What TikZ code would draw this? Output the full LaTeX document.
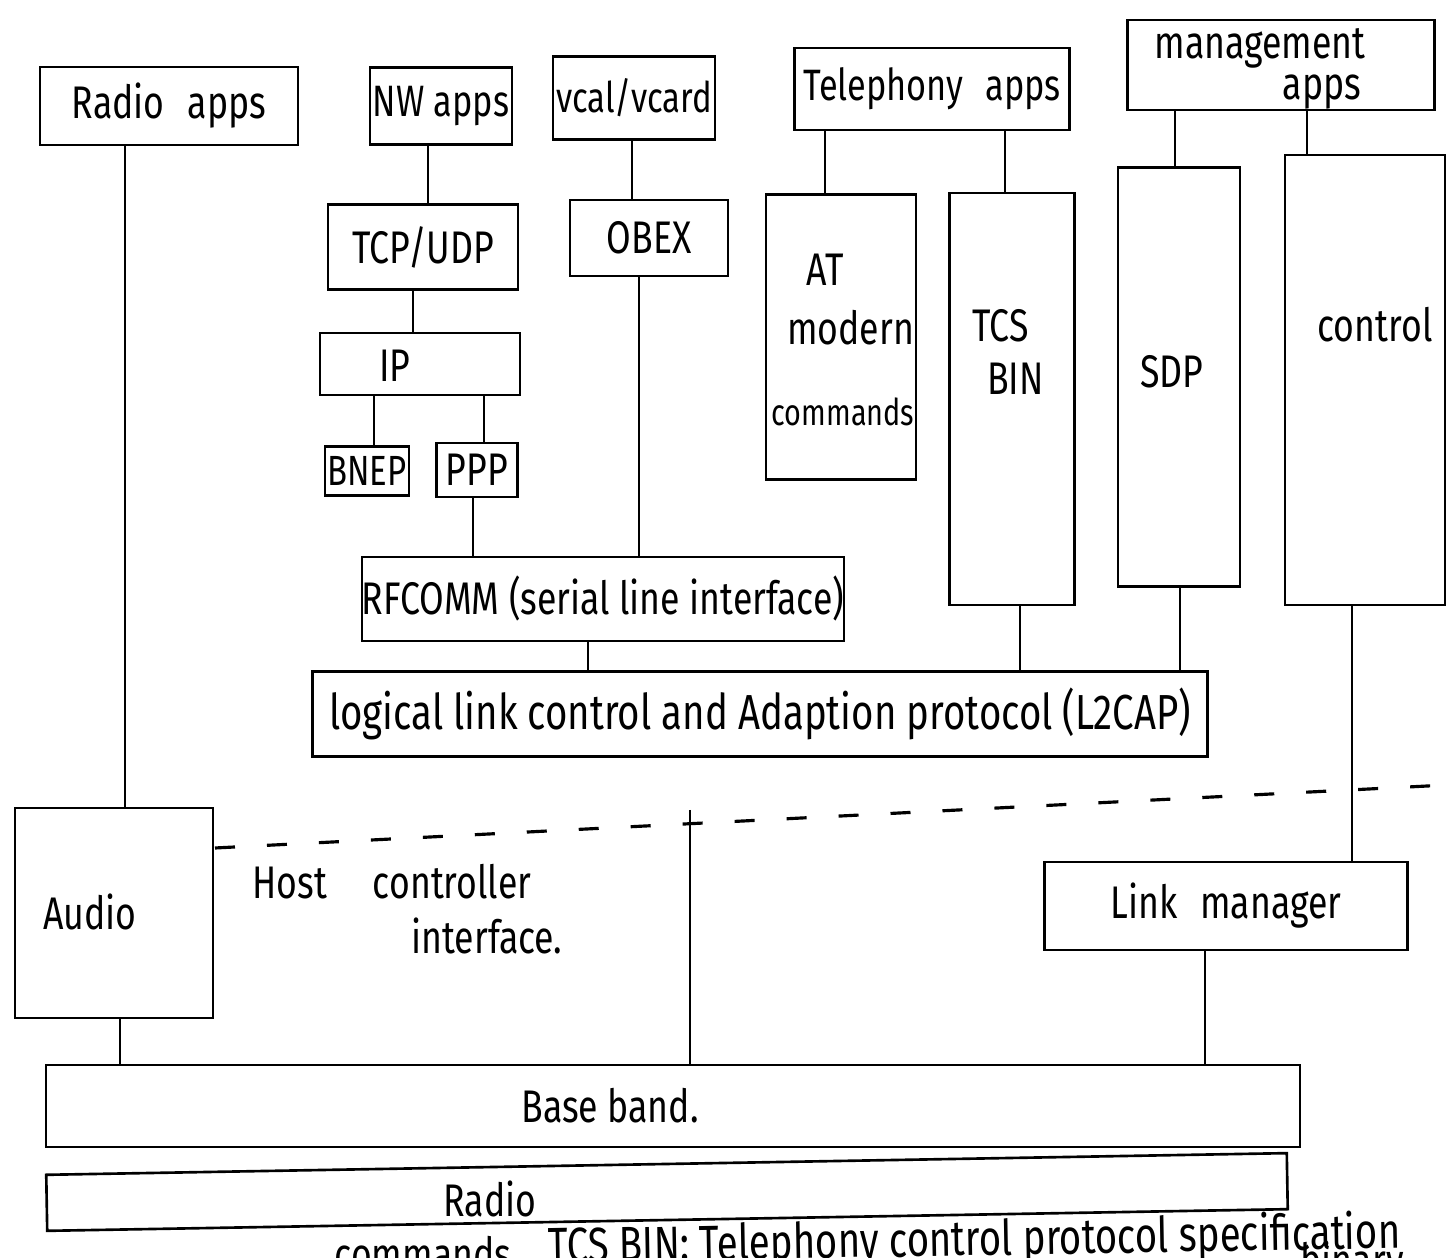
\documentclass[tikz,border=0pt]{standalone}
\usepackage{fontspec}
\setmainfont{Fira Sans}[FakeStretch=0.78]
\begin{document}
\begin{tikzpicture}[x=0.01cm,y=-0.01cm,
  box/.style={draw, line width=0.75pt, inner sep=0pt, font=\fontsize{13}{15}\selectfont},
  lbl/.style={inner sep=0pt, font=\fontsize{13}{15}\selectfont},
  conn/.style={line width=0.75pt},
  dashline/.style={line width=0.9pt, dash pattern=on 0.2cm off 0.32cm}]
\useasboundingbox (0,0) rectangle (1447,1258);
\clip (0,0) rectangle (1447,1258);
\fill[white] (0,0) rectangle (1447,1258);

% top application boxes
\node[box, minimum width=2.58cm, minimum height=0.78cm] (ra) at (169,106) {Radio\enspace apps};
\node[box, minimum width=1.42cm, minimum height=0.77cm, font=\fontsize{12.5}{15}\selectfont] (nw) at (441,106) {NW apps};
\node[box, minimum width=1.62cm, minimum height=0.83cm, font=\fontsize{12}{15}\selectfont] (vc) at (634,98) {vcal/vcard};
\node[box, minimum width=2.75cm, minimum height=0.82cm, font=\fontsize{12.5}{15}\selectfont] (tel) at (932,89) {Telephony\enspace apps};
\node[box, minimum width=3.07cm, minimum height=0.90cm] (mg) at (1281,65) {};
\node[lbl] (mgt1) at (1260,48) {management};
\node[lbl] (mgt2) at (1322,92) {apps};

% network stack
\node[box, minimum width=1.90cm, minimum height=0.85cm] (tcp) at (423,247) {TCP/UDP};
\node[box, minimum width=2.00cm, minimum height=0.62cm] (ip) at (420,364) {};
\node[lbl] (iptx) at (395,366) {IP};
\node[box, minimum width=0.84cm, minimum height=0.49cm, font=\fontsize{12}{14}\selectfont] (bnep) at (367,471) {BNEP};
\node[box, minimum width=0.81cm, minimum height=0.54cm] (ppp) at (477,470) {PPP};
\node[box, minimum width=1.58cm, minimum height=0.76cm] (obex) at (649,238) {OBEX};
\node[box, minimum width=4.74cm, minimum height=0.84cm] (rf) at (603,599) {RFCOMM (serial line interface)};
\node[box, minimum width=8.94cm, minimum height=0.85cm, font=\fontsize{14}{16}\selectfont] (l2) at (760,714) {logical link control and Adaption protocol (L2CAP)};

% tall boxes
\node[box, minimum width=1.50cm, minimum height=2.85cm] (at) at (841,337) {};
\node[lbl, align=center] (attx) at (843,340) {\hspace*{-0.35cm}AT\\[2pt]\hspace*{0.15cm}modern\\[8pt]{\fontsize{10.5}{13}\selectfont commands}};
\node[box, minimum width=1.25cm, minimum height=4.12cm] (tcs) at (1012,399) {};
\node[lbl, align=left] (tcstx) at (1008,352) {TCS\\\hspace*{0.15cm}BIN};
\node[box, minimum width=1.22cm, minimum height=4.19cm] (sdp) at (1179,377) {};
\node[lbl] (sdptx) at (1172,372) {SDP};
\node[box, minimum width=1.60cm, minimum height=4.50cm] (ctl) at (1365,380) {};
\node[lbl] (ctltx) at (1375,325) {control};

% lower part
\node[box, minimum width=1.98cm, minimum height=2.10cm] (audio) at (114,913) {};
\node[lbl] (audiotx) at (90,912) {Audio};
\node[lbl] (hc1) at (392,882) {Host\quad controller};
\node[lbl] (hc2) at (487,936) {interface.};
\node[box, minimum width=3.63cm, minimum height=0.88cm] (lm) at (1226,906) {Link\enspace manager};
\node[box, minimum width=12.53cm, minimum height=0.82cm] (bb) at (673,1106) {};
\node[lbl] (bbtx) at (610,1106) {Base band.};
\node[box, minimum width=12.40cm, minimum height=0.56cm, rotate=1] (rd) at (667,1192) {};
\node[lbl] (rdtx) at (490,1199) {Radio};
\node[lbl, anchor=base west, rotate=1, font=\fontsize{14}{16}\selectfont] (leg) at (548,1263) {TCS BIN: Telephony control protocol specification};
\node[lbl, anchor=base east] (legc) at (512,1271) {commands};
\node[lbl, anchor=base west] (legb) at (1300,1277) {binary};

% dashed boundary
\coordinate (dl) at (215,848);
\coordinate (dr) at (1447,785);
\draw[dashline] (dl) -- (dr);
\coordinate (hci) at (690,810);

% connector x positions
\foreach \n/\x in {x1/125,x2/428,x3/413,x4/374,x5/484,x6/473,x7/632,x8/639,x9/588,
  x10/825,x11/1005,x12/1020,x13/1175,x14/1307,x15/1180,x16/1352,x17/690,x18/1205,x19/120}
  {\coordinate (\n) at (\x,0);}

\draw[conn] (ra.south -| x1) -- (audio.north -| x1);
\draw[conn] (nw.south -| x2) -- (tcp.north -| x2);
\draw[conn] (tcp.south -| x3) -- (ip.north -| x3);
\draw[conn] (ip.south -| x4) -- (bnep.north -| x4);
\draw[conn] (ip.south -| x5) -- (ppp.north -| x5);
\draw[conn] (ppp.south -| x6) -- (rf.north -| x6);
\draw[conn] (vc.south -| x7) -- (obex.north -| x7);
\draw[conn] (obex.south -| x8) -- (rf.north -| x8);
\draw[conn] (rf.south -| x9) -- (l2.north -| x9);
\draw[conn] (tel.south -| x10) -- (at.north -| x10);
\draw[conn] (tel.south -| x11) -- (tcs.north -| x11);
\draw[conn] (tcs.south -| x12) -- (l2.north -| x12);
\draw[conn] (mg.south -| x13) -- (sdp.north -| x13);
\draw[conn] (mg.south -| x14) -- (ctl.north -| x14);
\draw[conn] (sdp.south -| x15) -- (l2.north -| x15);
\draw[conn] (ctl.south -| x16) -- (lm.north -| x16);
\draw[conn] (hci) -- (bb.north -| x17);
\draw[conn] (lm.south -| x18) -- (bb.north -| x18);
\draw[conn] (audio.south -| x19) -- (bb.north -| x19);
\end{tikzpicture}
\end{document}
